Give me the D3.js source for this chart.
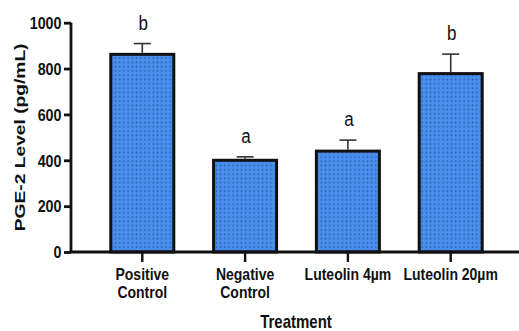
<!DOCTYPE html>
<html>
<head>
<meta charset="utf-8">
<script src="https://cdn.jsdelivr.net/npm/d3@7"></script>
<style>
  html, body { margin: 0; padding: 0; background: #fff; }
  svg { display: block; }
  text { font-family: "Liberation Sans", Arial, sans-serif; fill: #111; }
</style>
</head>
<body>
<svg id="chart" width="519" height="331"></svg>
<script>
// PGE-2 levels per treatment group (mean, SEM) and significance letters
const categories = ["Positive\nControl", "Negative\nControl", "Luteolin 4µm", "Luteolin 20µm"];
const means = [862, 400, 440, 778];
const errors = [47, 15, 48, 85];
const groupLetters = ["b", "a", "a", "b"];
const yTicks = [0, 200, 400, 600, 800, 1000];

const svg = d3.select("#chart");

const y = d3.scaleLinear().domain([0, 1000]).range([252, 22.7]);
const x = d3.scaleBand().domain(categories).range([71, 522]).paddingInner(0.387).paddingOuter(0.387);

// dotted fill for bars
const defs = svg.append("defs");
const pat = defs.append("pattern")
  .attr("id", "dots").attr("patternUnits", "userSpaceOnUse")
  .attr("width", 4.2).attr("height", 4.3);
pat.append("rect").attr("width", 4.2).attr("height", 4.3).attr("fill", "#4a8fee");
pat.append("rect").attr("x", 1.4).attr("y", 1.2).attr("width", 1.4).attr("height", 1.8).attr("fill", "#2a5fb0");

// bars
svg.append("g").selectAll("rect").data(means).join("rect")
  .attr("x", (d, i) => x(categories[i]))
  .attr("y", d => y(d))
  .attr("width", x.bandwidth())
  .attr("height", d => y(0) - y(d))
  .attr("fill", "url(#dots)")
  .attr("stroke", "#111")
  .attr("stroke-width", 3);

// error bars (upper only)
const eb = svg.append("g").attr("stroke", "#333").attr("stroke-width", 1.6);
means.forEach((m, i) => {
  const cx = x(categories[i]) + x.bandwidth() / 2;
  eb.append("line").attr("x1", cx).attr("x2", cx).attr("y1", y(m) - 1.5).attr("y2", y(m + errors[i]));
  eb.append("line").attr("x1", cx - 8.5).attr("x2", cx + 8.5).attr("y1", y(m + errors[i])).attr("y2", y(m + errors[i]));
});

// significance letters
svg.append("g").selectAll("text").data(groupLetters).join("text")
  .attr("transform", (d, i) => `translate(${x(categories[i]) + x.bandwidth() / 2 + 1},${y(means[i] + errors[i]) - 14}) scale(1,1.15)`)
  .attr("text-anchor", "middle")
  .style("font-size", "17px")
  .text(d => d);

// y axis
const yAxis = svg.append("g").attr("transform", "translate(71,0)")
  .call(d3.axisLeft(y).tickValues(yTicks).tickSize(7).tickPadding(3).tickFormat(d3.format("d")));
yAxis.select(".domain").attr("stroke", "#111").attr("stroke-width", 2.8).attr("d", `M0,${y(1000)}V${y(0)}`);
yAxis.selectAll(".tick line").attr("stroke", "#111").attr("stroke-width", 2.8);
yAxis.selectAll(".tick text")
  .attr("x", null).attr("dy", null)
  .attr("transform", "translate(-9.5,5.8) scale(1,1.17)")
  .style("font-size", "14.3px").style("font-weight", "bold")
  .style("font-family", "'Liberation Sans', Arial, sans-serif").attr("fill", "#111");

// x axis
const xAxis = svg.append("g").attr("transform", `translate(0,${y(0)})`)
  .call(d3.axisBottom(x).tickSize(10).tickSizeOuter(0).tickFormat(""));
xAxis.select(".domain").attr("stroke", "#111").attr("stroke-width", 2.8).attr("d", `M${71 - 1.4},0H519`);
xAxis.selectAll(".tick line").attr("stroke", "#111").attr("stroke-width", 2.4);

// category labels, split on line breaks
const catG = svg.append("g");
categories.forEach(c => {
  const cx = x(c) + x.bandwidth() / 2;
  c.split("\n").forEach((line, j) => {
    catG.append("text")
      .attr("transform", `translate(${cx},${280 + j * 17.7}) scale(1,1.2)`)
      .attr("text-anchor", "middle")
      .style("font-size", "14px").style("font-weight", "bold")
      .text(line);
  });
});

// axis titles
svg.append("text")
  .attr("transform", "translate(296,328) scale(1,1.25)")
  .attr("text-anchor", "middle")
  .style("font-size", "15px").style("font-weight", "bold")
  .text("Treatment");

svg.append("text")
  .attr("transform", `translate(24.5,${(y(0) + y(1000)) / 2}) rotate(-90) scale(1.24,1)`)
  .attr("text-anchor", "middle")
  .style("font-size", "15.5px").style("font-weight", "bold")
  .text("PGE-2 Level (pg/mL)");
</script>
</body>
</html>
